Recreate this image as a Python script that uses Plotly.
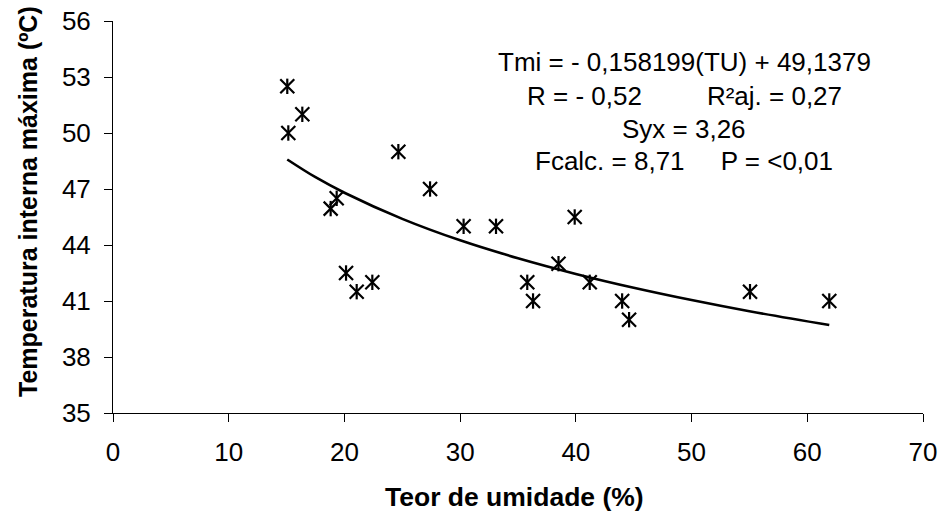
import plotly.graph_objects as go

teor_umidade = [15.06, 15.15, 16.36, 18.81, 19.33, 20.14, 21.06, 22.41, 24.66, 27.4,
                30.3, 33.1, 35.8, 36.3, 38.5, 39.9, 41.2, 44.0, 44.6, 55.05, 61.9]
temp_max = [52.5, 50.0, 51.0, 45.95, 46.5, 42.5, 41.5, 42.0, 49.0, 47.0,
            45.0, 45.0, 42.0, 41.0, 43.0, 45.5, 42.0, 41.0, 40.0, 41.5, 41.0]

# Trend curve
curve_x = [15.06, 17.5, 20, 25, 30, 35, 40, 45, 50, 55, 61.9]
curve_y = [48.58, 47.63, 46.8, 45.4, 44.25, 43.29, 42.45, 41.71, 41.05, 40.45, 39.71]

x_ticks = [0, 10, 20, 30, 40, 50, 60, 70]
y_ticks = [35, 38, 41, 44, 47, 50, 53, 56]

eq_lines = [
    "Tmi = - 0,158199(TU) + 49,1379",
    "R = - 0,52" + "\u00a0" * 9 + "R²aj. = 0,27",
    "Syx = 3,26",
    "Fcalc. = 8,71" + "\u00a0" * 5 + "P = <0,01",
]

FONT = "Liberation Sans, Arial, sans-serif"
PL, PR, PT, PB = 113, 923, 21, 413  # plot area in px
PW, PH = PR - PL, PB - PT

fig = go.Figure()
fig.add_trace(go.Scatter(x=curve_x, y=curve_y, mode="lines",
                         line=dict(color="black", width=2.6, shape="spline"),
                         hoverinfo="skip", showlegend=False))
fig.add_trace(go.Scatter(x=teor_umidade, y=temp_max, mode="markers",
                         marker=dict(symbol="x-thin-open", size=14, color="black",
                                     line=dict(color="black", width=2.2)),
                         showlegend=False))
fig.add_trace(go.Scatter(x=teor_umidade, y=temp_max, mode="markers",
                         marker=dict(symbol="line-ns-open", size=11, color="black",
                                     line=dict(color="black", width=2.2)),
                         showlegend=False))

line_py = [62, 96, 129, 161]
for txt, py in zip(eq_lines, line_py):
    fig.add_annotation(x=(684 - PL) / PW, y=(PB - py) / PH, xref="paper", yref="paper",
                       text=txt, showarrow=False,
                       xanchor="center", yanchor="middle",
                       font=dict(family=FONT, size=26, color="black"))

fig.add_annotation(x=(514 - PL) / PW, y=(PB - 497) / PH, xref="paper", yref="paper",
                   text="<b>Teor de umidade (%)</b>", showarrow=False,
                   xanchor="center", yanchor="middle",
                   font=dict(family=FONT, size=26.5, color="black"))
fig.add_annotation(x=(28 - PL) / PW, y=(PB - 202) / PH, xref="paper", yref="paper",
                   text="<b>Temperatura interna máxima (ºC)</b>", showarrow=False,
                   textangle=-90, xanchor="center", yanchor="middle",
                   font=dict(family=FONT, size=25, color="black"))

fig.update_layout(
    template="none",
    width=941, height=512,
    margin=dict(l=PL, r=941 - PR, t=PT, b=512 - PB),
    paper_bgcolor="white", plot_bgcolor="white",
    font=dict(family=FONT, size=26, color="black"),
    showlegend=False,
)
fig.update_xaxes(range=[0, 70], tickvals=x_ticks, ticktext=[str(v) for v in x_ticks],
                 automargin=False,
                 showgrid=False, zeroline=False, showline=True, linecolor="black",
                 linewidth=1, ticks="outside", ticklen=8, tickcolor="black",
                 tickwidth=1, ticklabelstandoff=8,
                 tickfont=dict(family=FONT, size=26, color="black"))
fig.update_yaxes(range=[35, 56], tickvals=y_ticks, ticktext=[str(v) for v in y_ticks],
                 automargin=False,
                 showgrid=False, zeroline=False, showline=True, linecolor="black",
                 linewidth=1, ticks="outside", ticklen=8, tickcolor="black",
                 tickwidth=1, ticklabelstandoff=8,
                 tickfont=dict(family=FONT, size=26, color="black"))

fig.write_html("out.html")
